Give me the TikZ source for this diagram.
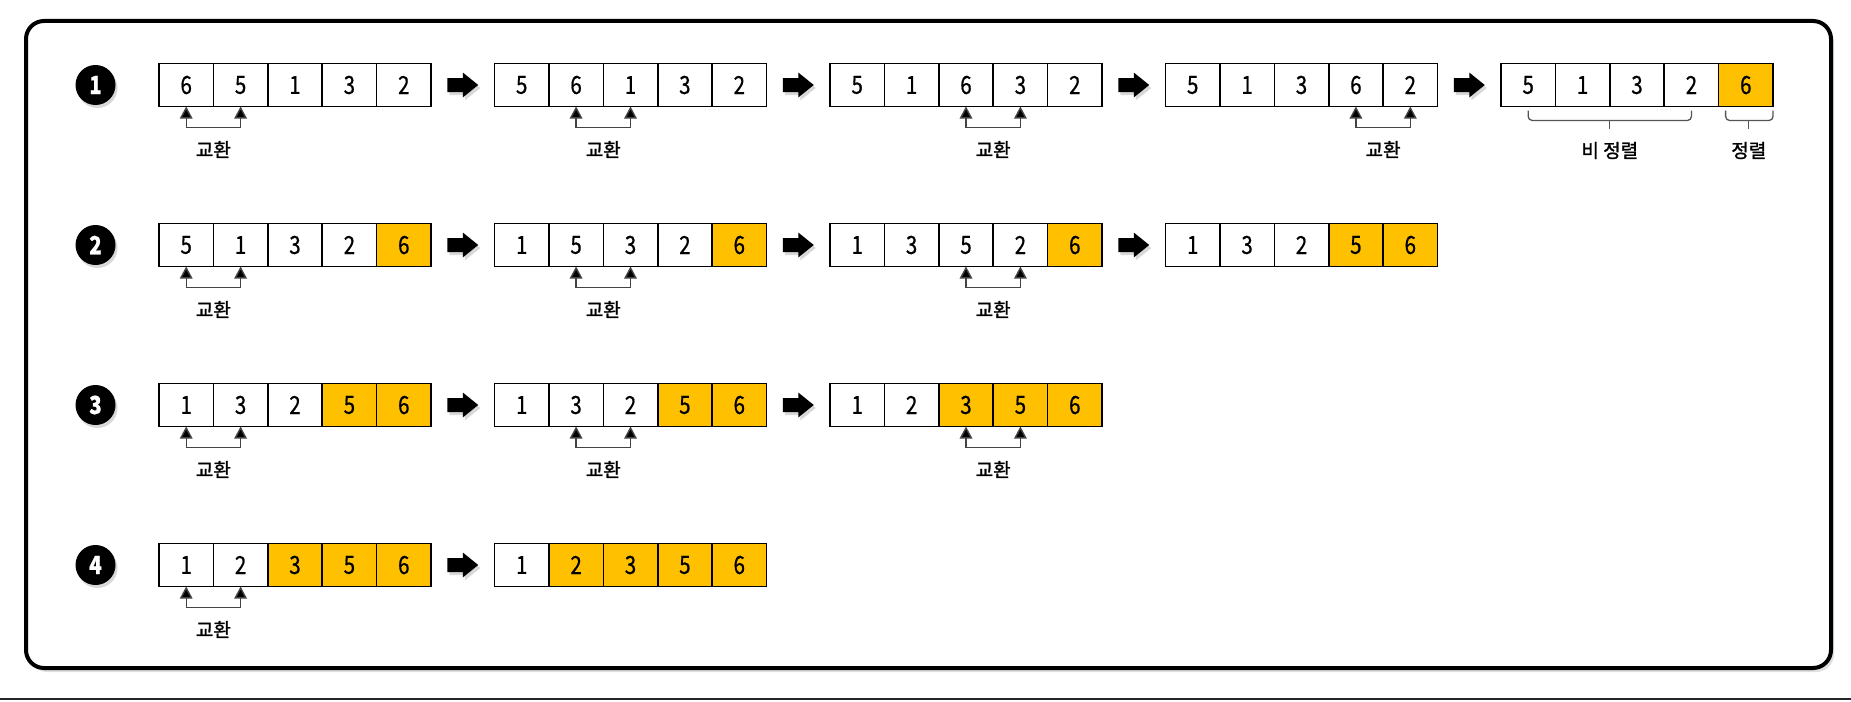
\documentclass[tikz,border=0pt]{standalone}
\usepackage{fontspec}
\setmainfont{Noto Sans CJK KR}
\newfontfamily\digitfont[FakeStretch=0.82,FakeBold=0.6]{Noto Sans CJK KR}
\newfontfamily\lblfont[FakeBold=1.4]{Noto Sans CJK KR}
\usetikzlibrary{calc,shadows,arrows.meta}
\definecolor{gold}{HTML}{FFC000}
\definecolor{swapgray}{HTML}{444444}
\definecolor{bracegray}{HTML}{555555}
\tikzset{
  cell/.style={draw=black, line width=1.6pt, minimum width=54.4pt, minimum height=43pt,
    inner sep=0pt, outer sep=0pt, font=\digitfont\fontsize{25}{25}\selectfont},
  stepnum/.style={circle, fill=black, minimum size=40pt, inner sep=0pt, text=white,
    font=\digitfont\bfseries\fontsize{25}{25}\selectfont,
    drop shadow={shadow xshift=2pt, shadow yshift=-3pt, opacity=0.3}},
  blockarrow/.style={fill=black, draw=none,
    drop shadow={shadow xshift=2pt, shadow yshift=-3pt, opacity=0.3}},
  swapline/.style={draw=swapgray, line width=1.4pt,
    {Triangle[width=12.5pt,length=12pt,fill=black]}-{Triangle[width=12.5pt,length=12pt,fill=black]}},
  lbl/.style={font=\lblfont\fontsize{19}{19}\selectfont, inner sep=0pt},
  bracket/.style={draw=bracegray, line width=1.3pt, rounded corners=4pt},
}
\newcommand{\drawarr}[5]{%
  \foreach \v [count=\i from 0] in {#4} {
    \ifnum\i<#5\relax\def\fc{white}\else\def\fc{gold}\fi
    \node[cell, fill=\fc] (#1c\i) at ({#2+27.2+54.4*\i},#3) {\v};
  }%
}
\newcommand{\swappair}[3]{%
  \draw[swapline] (#1c#2.south) -- ++(0,21) -| (#1c#3.south);
  \node[lbl] (#1lbl) at ($(#1c#2.south)!0.5!(#1c#3.south)+(0,43)$) {교환};
}
\newcommand{\stepto}[2]{%
  \coordinate (#1to#2) at ($(#1c4.east)!0.5!(#2c0.west)$);
  \path[blockarrow] ($(#1to#2)+(-15.5,-7)$) -- ($(#1to#2)+(0,-7)$) -- ($(#1to#2)+(0,-12.5)$)
    -- ($(#1to#2)+(15.5,0)$) -- ($(#1to#2)+(0,12.5)$) -- ($(#1to#2)+(0,7)$)
    -- ($(#1to#2)+(-15.5,7)$) -- cycle;
}
\begin{document}
\begin{tikzpicture}[x=1pt,y=-1pt]
\useasboundingbox (0,0) rectangle (1851,701);
\draw[line width=4pt, rounded corners=18pt, fill=white,
  drop shadow={shadow xshift=3pt, shadow yshift=-4pt, opacity=0.25}]
  (26,21) rectangle (1831,668);
\draw[line width=2pt, black!85] (0,699) -- (1851,699);

% step circles
\node[stepnum] (n1) at (95.5,85) {1};
\node[stepnum] (n2) at (95.5,245) {2};
\node[stepnum] (n3) at (95.5,405) {3};
\node[stepnum] (n4) at (95.5,565) {4};

% row 1
\drawarr{ra}{159}{85}{6,5,1,3,2}{5}
\drawarr{rb}{494.5}{85}{5,6,1,3,2}{5}
\drawarr{rc}{830}{85}{5,1,6,3,2}{5}
\drawarr{rd}{1165.5}{85}{5,1,3,6,2}{5}
\drawarr{re}{1501}{85}{5,1,3,2,6}{4}
\swappair{ra}{0}{1}
\swappair{rb}{1}{2}
\swappair{rc}{2}{3}
\swappair{rd}{3}{4}
\stepto{ra}{rb}\stepto{rb}{rc}\stepto{rc}{rd}\stepto{rd}{re}
% brackets
\draw[bracket] ($(rec0.south)+(0,4)$) -- ($(rec0.south)+(0,14)$) -- ($(rec0.south)!0.5!(rec3.south)+(0,14)$) -- ($(rec3.south)+(0,14)$) -- ($(rec3.south)+(0,4)$);
\draw[bracegray, line width=1.3pt] ($(rec0.south)!0.5!(rec3.south)+(0,14)$) -- ++(0,8);
\draw[bracket] ($(rec4.south west)+(7,4)$) -- ($(rec4.south west)+(7,14)$) -- ($(rec4.south east)+(0,14)$) -- ($(rec4.south east)+(0,4)$);
\draw[bracegray, line width=1.3pt] ($(rec4.south)+(3,14)$) -- ++(0,8);
\node[lbl] (unsorted) at ($(rec0.south)!0.5!(rec3.south)+(0,44)$) {비 정렬};
\node[lbl] (sorted) at ($(rec4.south)+(3,44)$) {정렬};

% row 2
\drawarr{sa}{159}{245}{5,1,3,2,6}{4}
\drawarr{sb}{494.5}{245}{1,5,3,2,6}{4}
\drawarr{sc}{830}{245}{1,3,5,2,6}{4}
\drawarr{sd}{1165.5}{245}{1,3,2,5,6}{3}
\swappair{sa}{0}{1}
\swappair{sb}{1}{2}
\swappair{sc}{2}{3}
\stepto{sa}{sb}\stepto{sb}{sc}\stepto{sc}{sd}

% row 3
\drawarr{ta}{159}{405}{1,3,2,5,6}{3}
\drawarr{tb}{494.5}{405}{1,3,2,5,6}{3}
\drawarr{tc}{830}{405}{1,2,3,5,6}{2}
\swappair{ta}{0}{1}
\swappair{tb}{1}{2}
\swappair{tc}{2}{3}
\stepto{ta}{tb}\stepto{tb}{tc}

% row 4
\drawarr{ua}{159}{565}{1,2,3,5,6}{2}
\drawarr{ub}{494.5}{565}{1,2,3,5,6}{1}
\swappair{ua}{0}{1}
\stepto{ua}{ub}
\end{tikzpicture}
\end{document}
